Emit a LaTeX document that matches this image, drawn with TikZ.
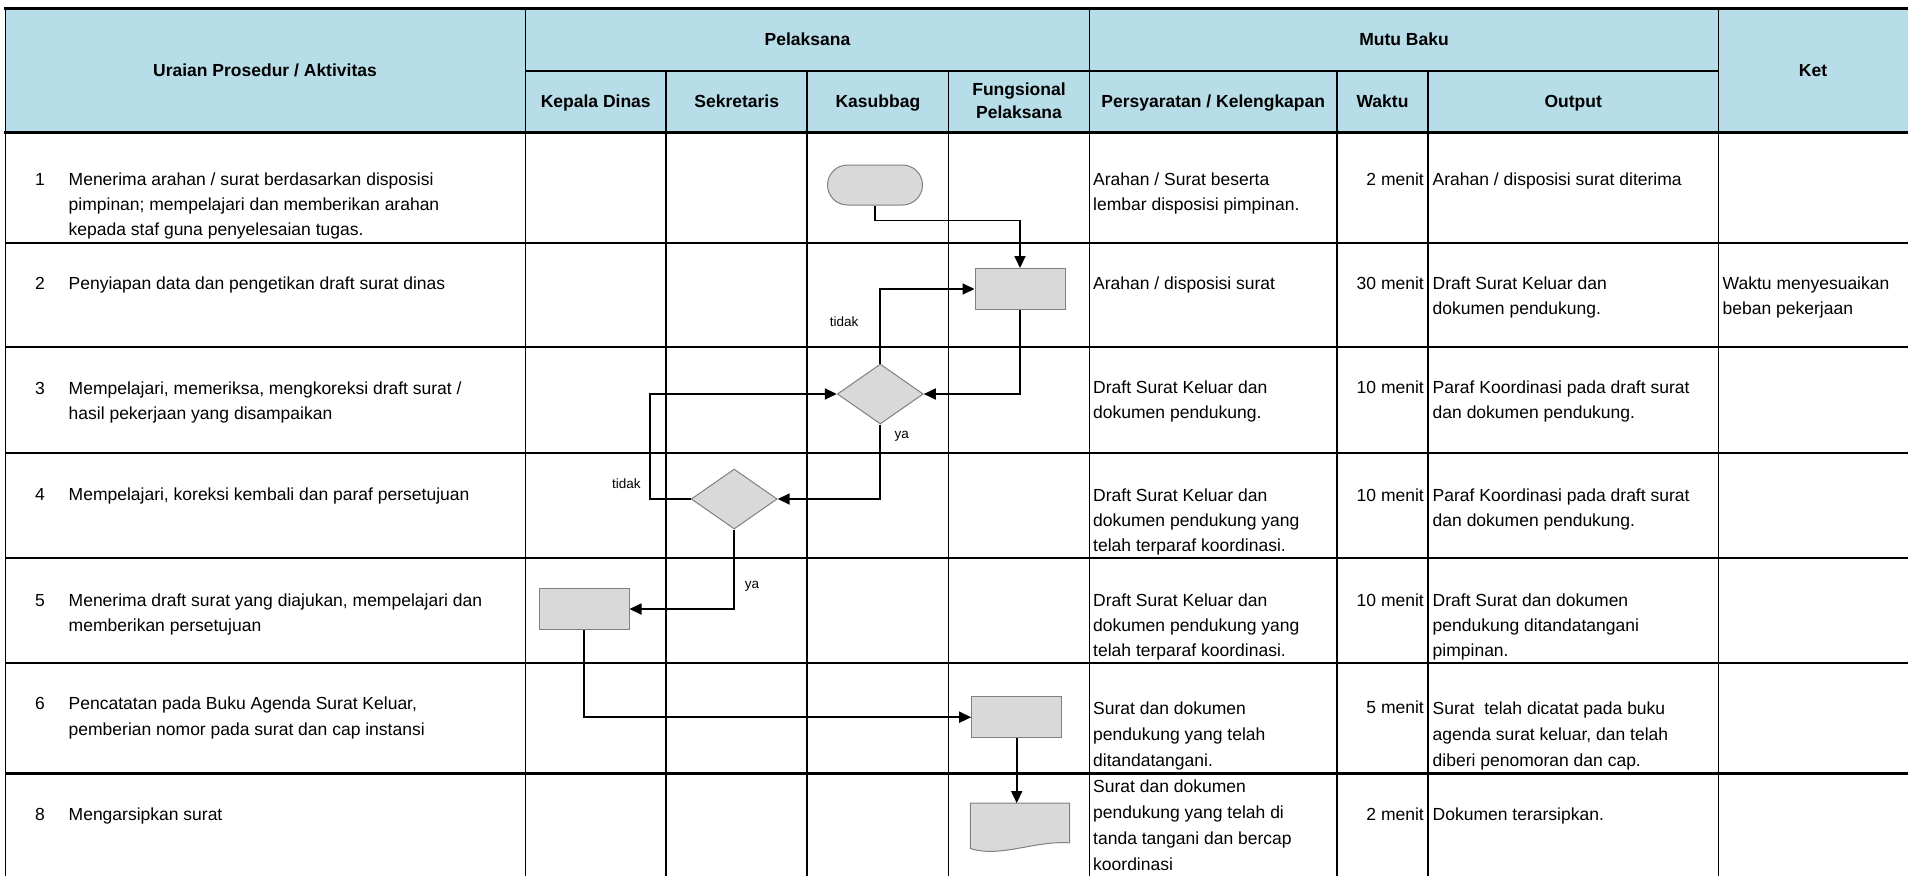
\documentclass[tikz,border=0pt]{standalone}
\usepackage{fontspec}
\setmainfont{Liberation Sans}
\usetikzlibrary{shapes.geometric,arrows.meta,calc}
\definecolor{hdrblue}{RGB}{183,222,232}
\definecolor{shapefill}{RGB}{217,217,217}
\definecolor{shapeborder}{RGB}{128,128,128}
\tikzset{
 grid/.style={line width=1.8pt, black},
 heavy/.style={line width=2.8pt, black},
 hd/.style={font=\fontsize{17.5}{23.3}\selectfont\bfseries, inner sep=0pt, align=center},
 hdone/.style={hd, text height=12.5pt, text depth=0pt},
 txt/.style={font=\fontsize{17.5}{25}\selectfont, inner sep=0pt, anchor=north west, align=left},
 txtw/.style={font=\fontsize{17.5}{26}\selectfont, inner sep=0pt, anchor=north west, align=left},
 txtr/.style={font=\fontsize{17.5}{25}\selectfont, inner sep=0pt, anchor=north east, align=right},
 shp/.style={draw=shapeborder, fill=shapefill, line width=1pt},
 box/.style={shp, rectangle, minimum width=90pt, minimum height=41pt, inner sep=0pt},
 dia/.style={shp, diamond, minimum width=86pt, minimum height=60pt, inner sep=0pt},
 term/.style={shp, rectangle, rounded corners=20pt, minimum width=95pt, minimum height=40pt, inner sep=0pt},
 conn/.style={line width=1.8pt, -{Triangle[length=12pt,width=11pt]}},
 lbl/.style={font=\fontsize{13.5}{16}\selectfont, inner sep=0pt},
}
\begin{document}
\begin{tikzpicture}[x=1pt,y=-1pt]
\useasboundingbox (0,0) rectangle (1908,876);
% header background
\fill[hdrblue] (5.5,8.3) rectangle (1908,132.7);
% grid
\draw[grid] (525.5,70.7) -- (1718.5,70.7);
\foreach \yy in {242.7,347.3,452.7,557.7,662.7} {\draw[grid] (5.5,\yy) -- (1908,\yy);}
\draw[heavy] (5.5,773.5) -- (1908,773.5);
\foreach \xx in {5.5,525.5,1089.5,1718.5} {\draw[grid] (\xx,8.3) -- (\xx,876);}
\foreach \xx in {666,807.3,948.5,1337,1428} {\draw[grid] (\xx,70.7) -- (\xx,876);}
\draw[heavy] (4.1,8.3) -- (1908,8.3);
\draw[heavy] (4.1,132.7) -- (1908,132.7);

% header texts
\node[hdone] (hUraian) at (265,70.5) {Uraian Prosedur / Aktivitas};
\node[hdone] (hPelaksana) at (807.5,39.5) {Pelaksana};
\node[hdone] (hMutu) at (1404,39.5) {Mutu Baku};
\node[hdone] (hKet) at (1813,70.7) {Ket};
\node[hdone] (hKepala) at (595.75,101.7) {Kepala Dinas};
\node[hdone] (hSekretaris) at (736.7,101.7) {Sekretaris};
\node[hdone] (hKasubbag) at (877.9,101.7) {Kasubbag};
\node[hd] (hFungsional) at (1019,101) {Fungsional\\Pelaksana};
\node[hdone] (hPersyaratan) at (1213.25,101.7) {Persyaratan / Kelengkapan};
\node[hdone] (hWaktu) at (1382.5,101.7) {Waktu};
\node[hdone] (hOutput) at (1573.25,101.7) {Output};

% left column
\node[txt] (n1) at (35,167.5) {\strut 1};
\node[txt] (u1) at (68.5,167.5) {\strut Menerima arahan / surat berdasarkan disposisi\\pimpinan; mempelajari dan memberikan arahan\\kepada staf guna penyelesaian tugas.};
\node[txt] (n2) at (35,272) {\strut 2};
\node[txt] (u2) at (68.5,272) {\strut Penyiapan data dan pengetikan draft surat dinas};
\node[txt] (n3) at (35,376.5) {\strut 3};
\node[txt] (u3) at (68.5,376.5) {\strut Mempelajari, memeriksa, mengkoreksi draft surat /\\hasil pekerjaan yang disampaikan};
\node[txt] (n4) at (35,483) {\strut 4};
\node[txt] (u4) at (68.5,483) {\strut Mempelajari, koreksi kembali dan paraf persetujuan};
\node[txt] (n5) at (35,589.2) {\strut 5};
\node[txt] (u5) at (68.5,589.2) {\strut Menerima draft surat yang diajukan, mempelajari dan\\memberikan persetujuan};
\node[txtw] (n6) at (35,691.5) {\strut 6};
\node[txtw] (u6) at (68.5,691.5) {\strut Pencatatan pada Buku Agenda Surat Keluar,\\pemberian nomor pada surat dan cap instansi};
\node[txt] (n8) at (35,802.5) {\strut 8};
\node[txt] (u8) at (68.5,802.5) {\strut Mengarsipkan surat};

% persyaratan
\node[txt] (p1) at (1093,167.5) {\strut Arahan / Surat beserta\\lembar disposisi pimpinan.};
\node[txt] (p2) at (1093,272) {\strut Arahan / disposisi surat};
\node[txt] (p3) at (1093,375.8) {\strut Draft Surat Keluar dan\\dokumen pendukung.};
\node[txt] (p4) at (1093,484.2) {\strut Draft Surat Keluar dan\\dokumen pendukung yang\\telah terparaf koordinasi.};
\node[txt] (p5) at (1093,589.2) {\strut Draft Surat Keluar dan\\dokumen pendukung yang\\telah terparaf koordinasi.};
\node[txtw] (p6) at (1093,695.8) {\strut Surat dan dokumen\\pendukung yang telah\\ditandatangani.};
\node[txtw] (p8) at (1093,774.2) {\strut Surat dan dokumen\\pendukung yang telah di\\tanda tangani dan bercap\\koordinasi};

% waktu
\node[txtr] (w1) at (1424,167.5) {\strut 2 menit};
\node[txtr] (w2) at (1424,272) {\strut 30 menit};
\node[txtr] (w3) at (1424,375.8) {\strut 10 menit};
\node[txtr] (w4) at (1424,484.2) {\strut 10 menit};
\node[txtr] (w5) at (1424,589.2) {\strut 10 menit};
\node[txtr] (w6) at (1424,695.8) {\strut 5 menit};
\node[txtr] (w8) at (1424,802.5) {\strut 2 menit};

% output
\node[txt] (o1) at (1432.5,167.5) {\strut Arahan / disposisi surat diterima};
\node[txt] (o2) at (1432.5,272) {\strut Draft Surat Keluar dan\\dokumen pendukung.};
\node[txt] (o3) at (1432.5,375.8) {\strut Paraf Koordinasi pada draft surat\\dan dokumen pendukung.};
\node[txt] (o4) at (1432.5,484.2) {\strut Paraf Koordinasi pada draft surat\\dan dokumen pendukung.};
\node[txt] (o5) at (1432.5,589.2) {\strut Draft Surat dan dokumen\\pendukung ditandatangani\\pimpinan.};
\node[txtw] (o6) at (1432.5,695.8) {\strut Surat\ \ telah dicatat pada buku\\agenda surat keluar, dan telah\\diberi penomoran dan cap.};
\node[txt] (o8) at (1432.5,802.5) {\strut Dokumen terarsipkan.};

% ket
\node[txt] (k2) at (1722.5,272) {\strut Waktu menyesuaikan\\beban pekerjaan};

% flowchart shapes
\node[term] (t1) at (875,185) {};
\node[box] (r2) at (1020,289) {};
\node[dia] (d1) at (880.3,394) {};
\node[dia] (d2) at (734.2,499) {};
\node[box] (r5) at (584,609) {};
\node[box] (r6) at (1016.7,717.2) {};
\node[draw=none, rectangle, minimum width=98.8pt, minimum height=45pt, inner sep=0pt] (doc) at (1020,825.8) {};
\draw[shp] (doc.north west) -- (doc.north east) -- ($(doc.south east)+(0,-5.6)$)
  .. controls ($(doc.south east)+(-34.4,-8.3)$) and ($(doc.south west)+(29.4,9.7)$) .. (doc.south west) -- cycle;

% connectors
\draw[conn] (t1.south) -- ++(0,15) -| (r2.north);
\draw[conn] (d1.north) |- (r2.west);
\draw[conn] (r2.south) |- (d1.east);
\draw[conn] (d1.south) |- (d2.east);
\draw[conn] (d2.west) -- ++(-41,0) |- (d1.west);
\draw[conn] (d2.south) |- (r5.east);
\draw[conn] (r5.south) |- (r6.west);
\draw[conn] (r6.south) -- (r6.south |- doc.north);

% labels
\node[lbl] (lt1) at (844,321.5) {tidak};
\node[lbl] (ly1) at (901.7,436.7) {ya};
\node[lbl] (lt2) at (626.3,483.3) {tidak};
\node[lbl] (ly2) at (752,586.7) {ya};
\end{tikzpicture}
\end{document}
